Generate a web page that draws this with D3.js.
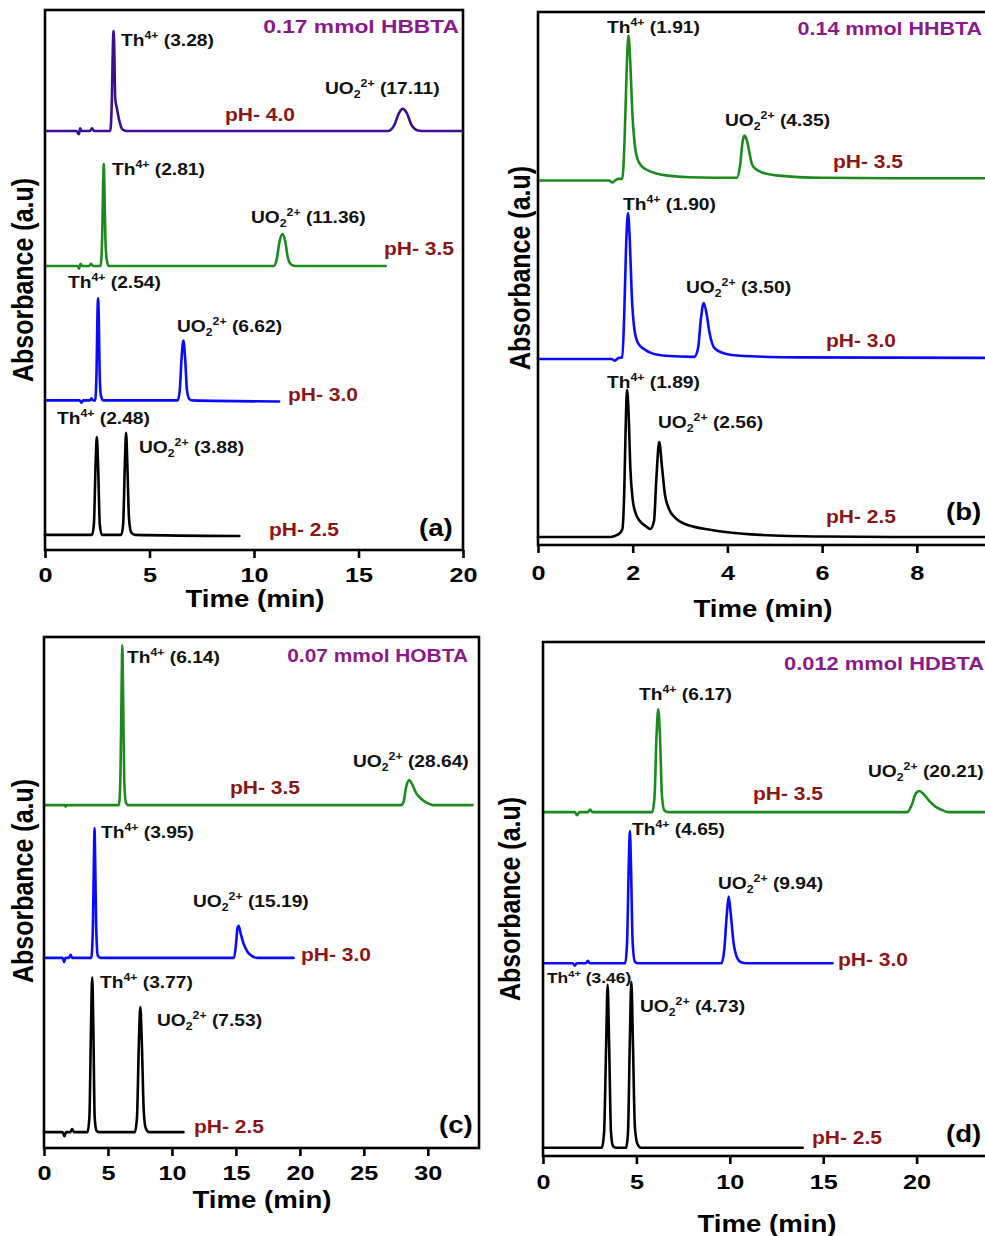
<!DOCTYPE html>
<html><head><meta charset="utf-8">
<script src="https://cdn.jsdelivr.net/npm/d3@7"></script>
<style>
html,body{margin:0;padding:0;background:#fff;overflow:hidden;}
svg{display:block;}
text{font-family:"Liberation Sans", Arial, sans-serif; font-weight:bold;}
</style></head><body>
<svg id="chart" width="985" height="1236"></svg>
<script>
// ---------------- DATA ----------------
// x ticks (as visible in the figure)
const ticksA = [0, 5, 10, 15, 20];
const ticksB = [0, 2, 4, 6, 8];
const ticksC = [0, 5, 10, 15, 20, 25, 30];
const ticksD = [0, 5, 10, 15, 20];

const titles = ["0.17 mmol HBBTA", "0.14 mmol HHBTA", "0.07 mmol HOBTA", "0.012 mmol HDBTA"];
const panelTags = ["(a)", "(b)", "(c)", "(d)"];
const phA = ["pH- 4.0", "pH- 3.5", "pH- 3.0", "pH- 2.5"];
const phBCD = ["pH- 3.5", "pH- 3.0", "pH- 2.5"];

// retention times [Th4+, UO2 2+] for each trace (top to bottom)
const retA = [["3.28", "17.11"], ["2.81", "11.36"], ["2.54", "6.62"], ["2.48", "3.88"]];
const retB = [["1.91", "4.35"], ["1.90", "3.50"], ["1.89", "2.56"]];
const retC = [["6.14", "28.64"], ["3.95", "15.19"], ["3.77", "7.53"]];
const retD = [["6.17", "20.21"], ["4.65", "9.94"], ["3.46", "4.73"]];

// stacking offsets (a.u., 0-100 scale of each panel)
const offA = [77.6, 52.6, 27.7, 2.8];
const offB = [68.4, 34.9, 1.5];
const offC = [67.1, 37.2, 3.1];
const offD = [66.9, 37.5, 1.6];

// traces [time (min), signal above baseline (a.u.)]
const a40 = [[0,0],[1.5,0],[1.62,-0.6],[1.68,0.5],[1.75,0],[2.15,0],[2.25,0.5],[2.35,0],[3.12,0],[3.2,6],[3.25,16],[3.28,18.5],[3.31,16],[3.36,6],[3.44,4.2],[3.55,2],[3.7,0.3],[3.9,0],[16.4,0],[16.7,1],[16.95,3.4],[17.11,4.1],[17.3,3.4],[17.55,1],[17.85,0.1],[18.2,0],[20,0]];
const a35 = [[0,0],[1.55,0],[1.63,-0.5],[1.7,0.4],[1.78,0],[2.12,0],[2.2,0.4],[2.3,0],[2.66,0],[2.74,6],[2.78,15],[2.81,18.9],[2.84,15],[2.89,5],[2.96,1],[3.05,0],[10.95,0],[11.1,1.5],[11.22,4.5],[11.36,5.9],[11.5,4.5],[11.62,1.5],[11.8,0.2],[12,0],[16.3,0]];
const a30 = [[0,0],[1.65,0],[1.75,-0.4],[1.82,0],[2.15,0],[2.22,0.4],[2.3,0],[2.4,0],[2.47,6],[2.51,16],[2.54,18.9],[2.57,16],[2.61,6],[2.67,1],[2.78,0],[6.35,0],[6.45,2],[6.53,7.5],[6.62,11.1],[6.71,7.5],[6.79,2],[6.9,0.3],[7.05,0],[11.2,-0.2]];
const a25 = [[0,0],[2.25,0],[2.34,2],[2.42,13],[2.48,18.1],[2.54,13],[2.62,2],[2.72,0],[3.65,0],[3.74,2],[3.82,13],[3.88,18.9],[3.94,13],[4.02,3],[4.12,0.5],[4.3,0],[9.3,-0.2]];

const b35 = [[0,0],[1.5,0],[1.57,-0.4],[1.63,0],[1.7,0.3],[1.78,0.3],[1.83,8],[1.87,20],[1.91,27.2],[1.95,22],[1.99,13],[2.04,7],[2.11,3.8],[2.2,2.6],[2.32,1.9],[2.5,1.3],[2.75,0.9],[3.2,0.6],[4.2,0.5],[4.27,3],[4.32,7.2],[4.36,8.4],[4.42,7.2],[4.52,3],[4.62,2],[4.73,1.5],[5.07,0.9],[6,0.5],[8,0.4],[10,0.4]];
const b30 = [[0,0],[1.55,0],[1.62,-0.3],[1.7,0.2],[1.78,0.3],[1.82,8],[1.86,21],[1.9,27.4],[1.94,22],[1.98,12],[2.03,6],[2.11,3],[2.25,1.8],[2.4,1.1],[2.7,0.6],[3.3,0.4],[3.38,2],[3.44,7.5],[3.5,10.5],[3.56,8.5],[3.62,5],[3.74,1.9],[4,0.9],[4.5,0.5],[5.5,0.3],[10,0.2]];
const b25 = [[0,0],[1.55,0],[1.62,0.2],[1.7,0.5],[1.78,1.4],[1.82,8],[1.85,20],[1.88,27.6],[1.91,24],[1.95,13],[2.0,7],[2.06,4.5],[2.15,3],[2.28,2],[2.37,1.5],[2.45,3],[2.5,11],[2.56,17.8],[2.62,13],[2.68,8],[2.76,5.4],[2.9,3.6],[3.04,2.7],[3.3,1.9],[3.6,1.4],[4.0,0.9],[4.7,0.4],[6,0.1],[8,0],[10,0]];

const c35 = [[0,0],[1.6,0],[1.7,-0.3],[1.8,0],[5.85,0],[5.97,5],[6.06,22],[6.12,31.3],[6.18,22],[6.27,5],[6.4,0.5],[6.6,0],[27.9,0],[28.1,0.6],[28.3,3.5],[28.55,4.9],[28.75,4.2],[29.1,2.3],[29.5,1.2],[29.9,0.5],[30.4,0],[33.5,0]];
const c30 = [[0,0],[1.45,0],[1.57,-0.8],[1.68,0],[1.95,0],[2.08,0.6],[2.2,0],[3.7,0],[3.82,6],[3.9,19],[3.95,25.4],[4.0,19],[4.08,6],[4.2,0.5],[4.4,0],[14.85,0],[15.0,2.5],[15.12,5.8],[15.22,6.3],[15.35,5],[15.6,2.8],[15.9,1.2],[16.3,0.3],[16.7,0],[19.5,0]];
const c25 = [[0,0],[1.45,0],[1.6,-0.8],[1.72,0],[2.05,0],[2.2,0.6],[2.35,0],[3.4,0],[3.55,3],[3.67,20],[3.77,30.3],[3.86,20],[3.96,3],[4.1,0.3],[4.3,0],[7.1,0],[7.27,3],[7.42,18],[7.53,24.5],[7.64,18],[7.8,4],[7.95,0.8],[8.2,0],[10.9,0]];

const d35 = [[0,0],[1.7,0],[1.82,-0.6],[1.95,0],[2.4,0],[2.52,0.5],[2.65,0],[5.85,0],[5.97,3],[6.08,15],[6.17,20],[6.26,15],[6.37,3],[6.5,0.3],[6.7,0],[19.5,0],[19.75,1.5],[19.95,3.6],[20.15,4.1],[20.4,3.4],[20.7,2.1],[21.0,1.1],[21.3,0.5],[21.7,0],[25,0]];
const d30 = [[0,0],[1.6,0],[1.7,-0.5],[1.8,0],[2.3,0],[2.4,0.5],[2.5,0],[4.4,0],[4.5,4],[4.59,19],[4.65,25.7],[4.71,19],[4.8,4],[4.92,0.3],[5.1,0],[9.55,0],[9.7,2.5],[9.84,9.5],[9.94,13],[10.04,10],[10.2,4],[10.4,1],[10.6,0.2],[10.9,0],[15.5,0]];
const d25 = [[0,0],[3.15,0],[3.27,3],[3.38,20],[3.46,31.7],[3.54,20],[3.64,3],[3.75,0.3],[3.9,0],[4.45,0],[4.55,3],[4.65,21],[4.73,32.3],[4.81,21],[4.92,4],[5.05,0.8],[5.25,0],[13.9,0]];

// ---------------- STYLE / LAYOUT ----------------
const PURPLE_T = "#3b0f8e", GREEN = "#1c8a1c", BLUE = "#0a0aff", BLACK = "#000000";
const PH_COL = "#8b1616", TITLE_COL = "#8a1a8c";
const SX = 1.2; // horizontal stretch of the original figure's text

const panels = [
  { x0:45, x1:463, y0:10, y1:550, domain:[0,20], ticks:ticksA, tickY:32,
    traces:[a40,a35,a30,a25], offs:offA, colors:[PURPLE_T,GREEN,BLUE,BLACK], ph:phA, ret:retA,
    title:[459,33,1.2], tag:[419,536], xlab:[255,607], ylab:[33,280],
    th:[[121,46],[112,175],[68,288],[57,424]], uo:[[325,94],[251,223],[177,332],[139,453]],
    phPos:[[225,121],[384,255],[288,401],[269,536]], thSize:[16,16,16,16] },
  { x0:538, x1:1011.5, y0:12, y1:545, domain:[0,10], ticks:ticksB, tickY:35,
    traces:[b35,b30,b25], offs:offB, colors:[GREEN,BLUE,BLACK], ph:phBCD, ret:retB,
    title:[982,35,1.13], tag:[946,520], xlab:[763,617], ylab:[530,268],
    th:[[607,33],[623,210],[607,388]], uo:[[725,126],[686,293],[658,428]],
    phPos:[[833,168],[826,347],[826,523]], thSize:[16,16,16] },
  { x0:44, x1:479, y0:637, y1:1148, domain:[0,34], ticks:ticksC, tickY:32,
    traces:[c35,c30,c25], offs:offC, colors:[GREEN,BLUE,BLACK], ph:phBCD, ret:retC,
    title:[468,662,1.1], tag:[439,1133], xlab:[262,1208], ylab:[33,881],
    th:[[127,663],[101,838],[100,988]], uo:[[353,767],[193,907],[157,1026]],
    phPos:[[230,794],[301,961],[194,1133]], thSize:[16,16,16] },
  { x0:543, x1:1010, y0:642, y1:1156, domain:[0,25], ticks:ticksD, tickY:33,
    traces:[d35,d30,d25], offs:offD, colors:[GREEN,BLUE,BLACK], ph:phBCD, ret:retD,
    title:[984,670,1.15], tag:[946,1142], xlab:[767,1232], ylab:[520,899],
    th:[[639,700],[632,835],[547,983]], uo:[[868,777],[718,889],[640,1012]],
    phPos:[[753,800],[838,966],[812,1144]], thSize:[16,16,14.5] }
];

const svg = d3.select("#chart");

function richText(g, x, y, parts, size, color, anchor, sx) {
  const t = g.append("text")
    .attr("transform", `translate(${x},${y}) scale(${sx || SX},1)`)
    .attr("font-size", size).attr("fill", color)
    .attr("text-anchor", anchor || "start");
  let cur = 0;
  parts.forEach(p => {
    let shift = 0, fs = size;
    if (p.sup) { shift = -0.42 * size; fs = size * 0.64; }
    if (p.sub) { shift = 0.28 * size; fs = size * 0.64; }
    t.append("tspan").attr("dy", shift - cur).attr("font-size", fs).text(p.t);
    cur = shift;
  });
  return t;
}

panels.forEach((P, pi) => {
  const g = svg.append("g");
  const x = d3.scaleLinear().domain(P.domain).range([P.x0, P.x1]);
  const y = d3.scaleLinear().domain([0, 100]).range([P.y1, P.y0]);

  // traces
  P.traces.forEach((tr, i) => {
    const off = P.offs[i];
    const line = d3.line().x(d => x(d[0])).y(d => y(d[1] + off)).curve(d3.curveMonotoneX);
    g.append("path").datum(tr).attr("d", line)
      .attr("fill", "none").attr("stroke", P.colors[i])
      .attr("stroke-width", 2.6).attr("stroke-linejoin", "round").attr("stroke-linecap", "round");
  });

  // frame
  g.append("rect").attr("x", P.x0).attr("y", P.y0)
    .attr("width", P.x1 - P.x0).attr("height", P.y1 - P.y0)
    .attr("fill", "none").attr("stroke", "#000").attr("stroke-width", 2.6);

  // x axis
  const ax = g.append("g").attr("transform", `translate(0,${P.y1})`)
    .call(d3.axisBottom(x).tickValues(P.ticks).tickSize(8).tickSizeOuter(0).tickFormat(d3.format("d")));
  ax.select(".domain").remove();
  ax.selectAll(".tick line").attr("stroke", "#000").attr("stroke-width", 2.6);
  ax.selectAll(".tick text").attr("y", P.tickY).attr("dy", 0)
    .attr("transform", `scale(${SX},1)`).attr("font-size", 21)
    .attr("font-family", '"Liberation Sans", Arial, sans-serif').attr("font-weight", "bold").attr("fill", "#000");

  // axis titles
  richText(g, P.xlab[0], P.xlab[1], [{t:"Time (min)"}], 23, "#000", "middle");
  g.append("text").attr("transform", `translate(${P.ylab[0]},${P.ylab[1]}) rotate(-90) scale(1,${SX})`)
    .attr("text-anchor", "middle").attr("font-size", 25).attr("fill", "#000").text("Absorbance (a.u)");

  // titles / tags
  richText(g, P.title[0], P.title[1], [{t:titles[pi]}], 19, TITLE_COL, "end", P.title[2]);
  richText(g, P.tag[0], P.tag[1], [{t:panelTags[pi]}], 24, "#000", "start", 1.15);

  // peak labels
  P.ret.forEach((r, i) => {
    richText(g, P.th[i][0], P.th[i][1], [{t:"Th"},{t:"4+",sup:true},{t:` (${r[0]})`}], P.thSize[i], "#111");
    richText(g, P.uo[i][0], P.uo[i][1], [{t:"UO"},{t:"2",sub:true},{t:"2+",sup:true},{t:` (${r[1]})`}], 16, "#111");
    richText(g, P.phPos[i][0], P.phPos[i][1], [{t:P.ph[i]}], 17.5, PH_COL);
  });
});
</script>
</body></html>
